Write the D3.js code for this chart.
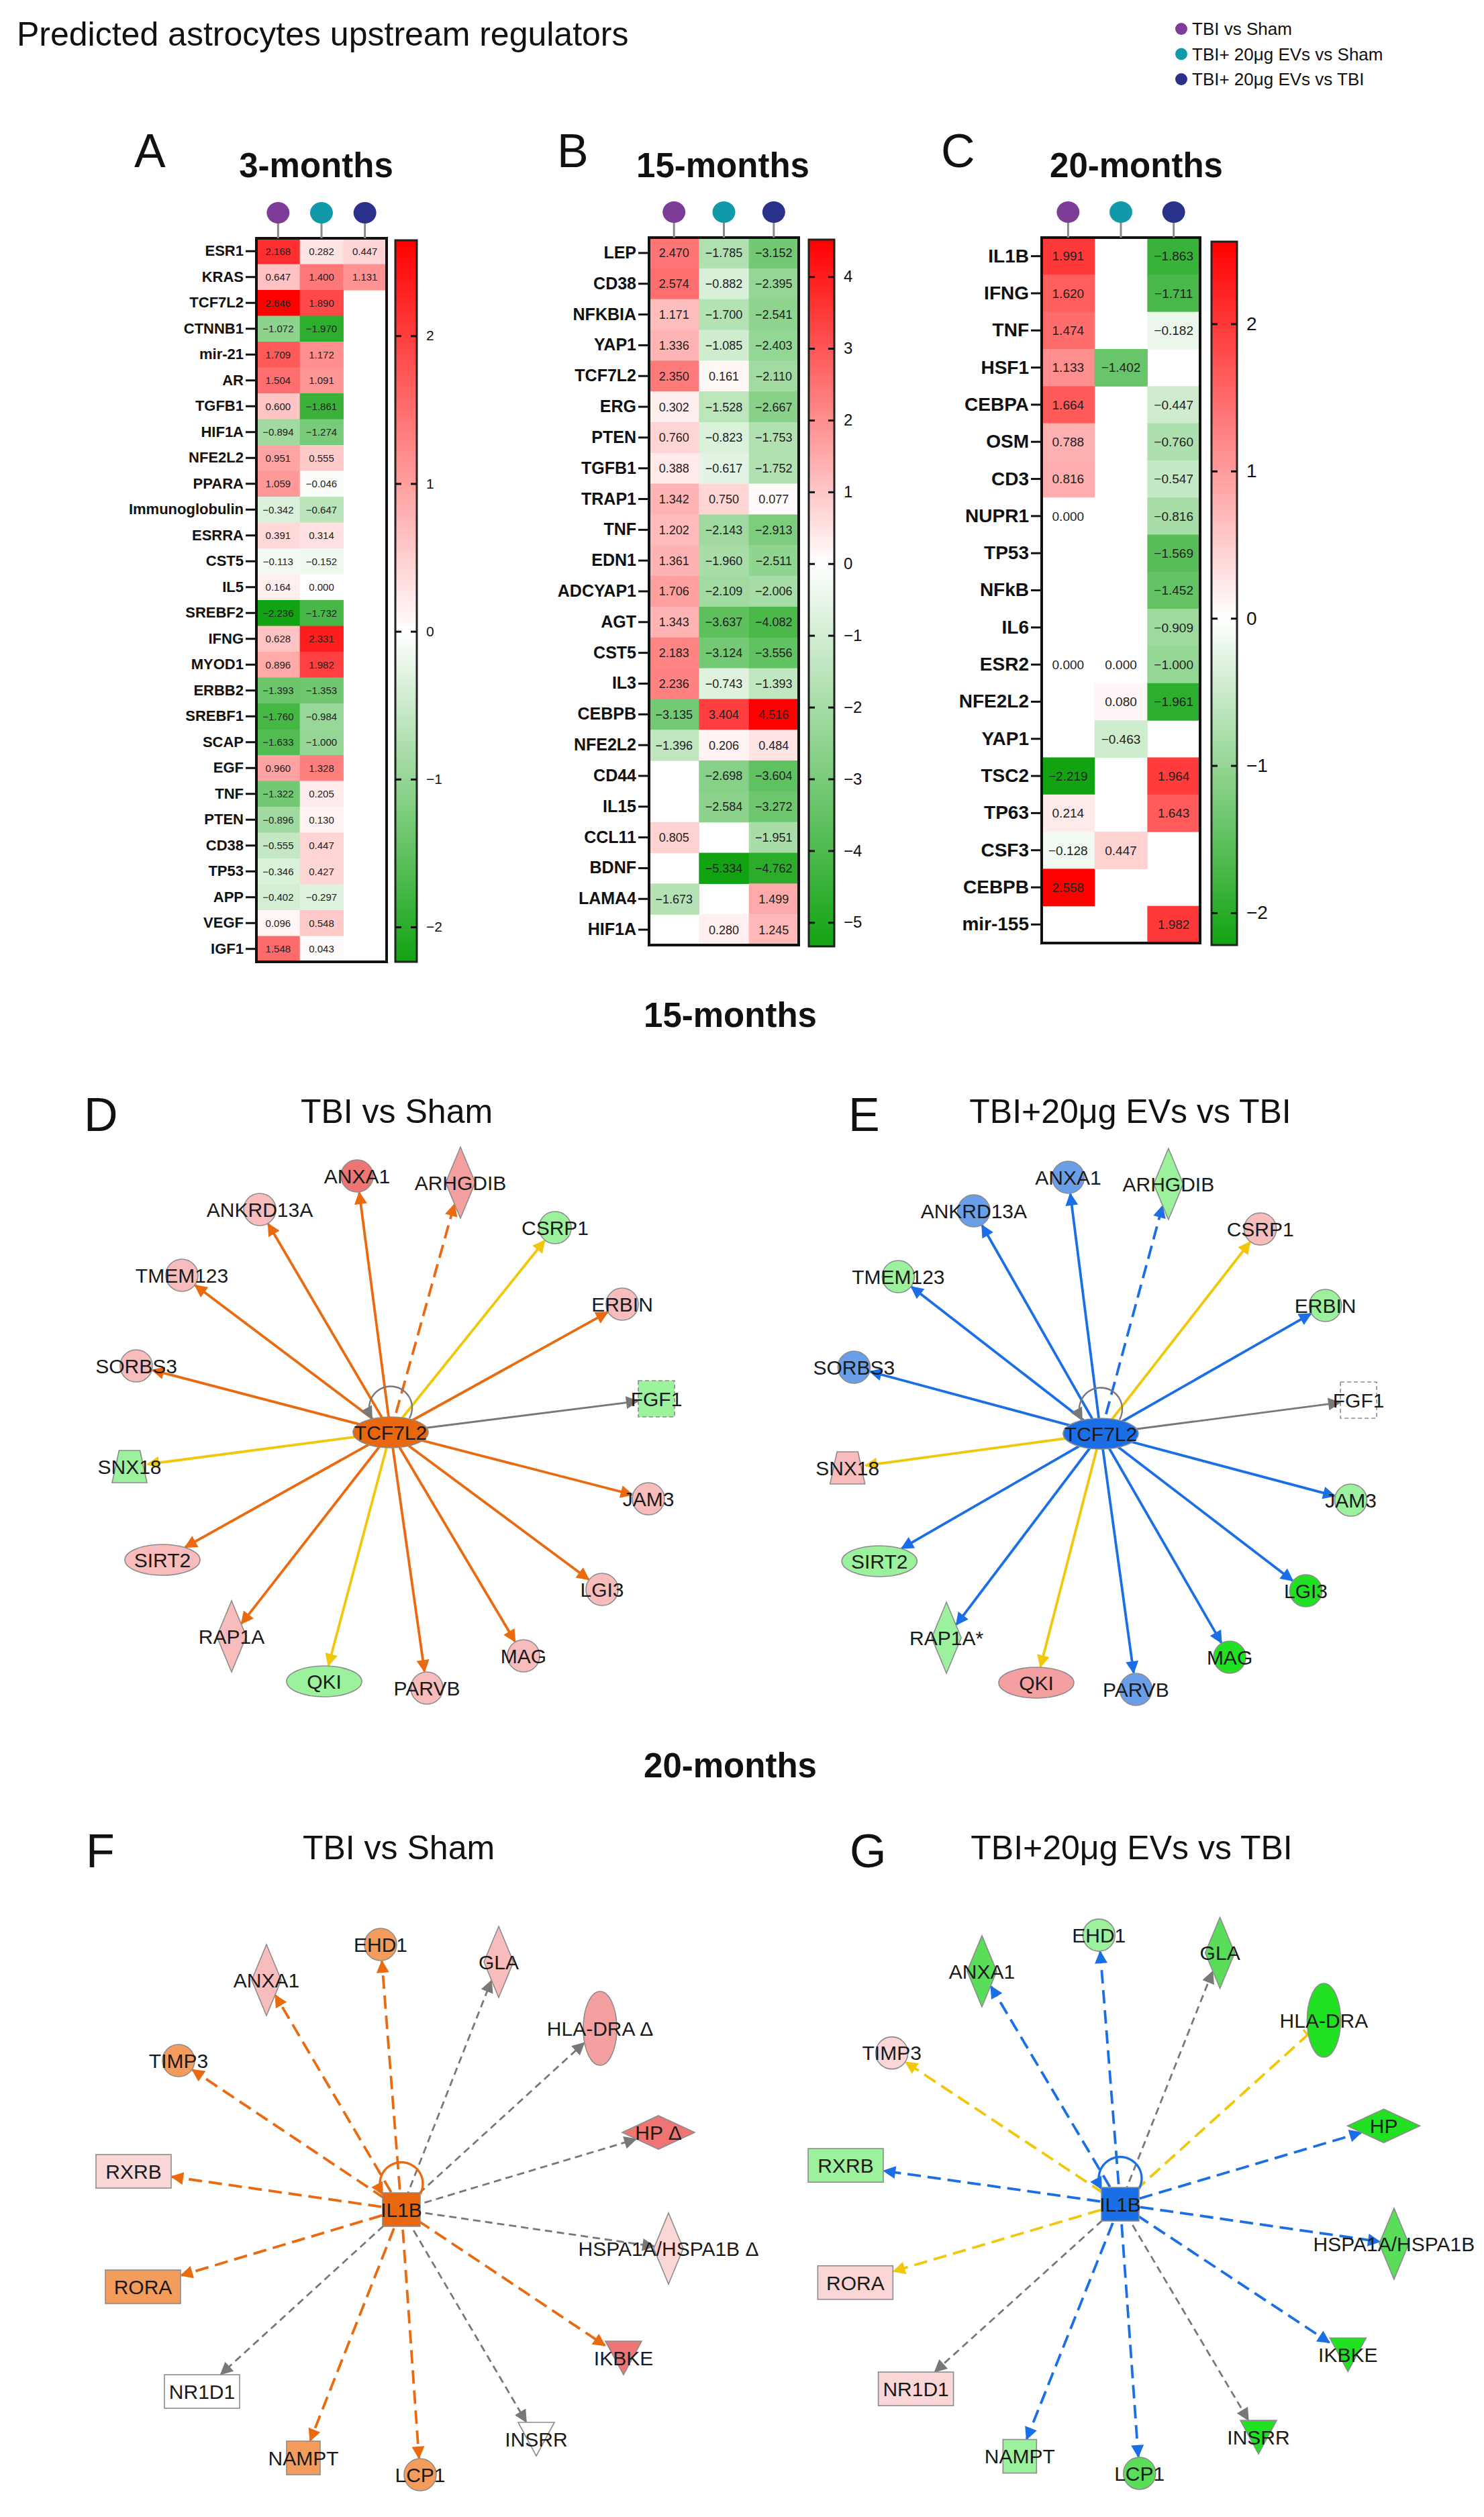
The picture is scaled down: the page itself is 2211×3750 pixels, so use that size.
<!DOCTYPE html>
<html>
<head>
<meta charset="utf-8">
<script src="https://cdn.jsdelivr.net/npm/d3@7"></script>
<style>
  body { margin: 0; background: #fff; }
  svg text { font-family: "Liberation Sans", Arial, sans-serif; }
</style>
</head>
<body>
<svg id="fig" width="2211" height="3750"></svg>
<script>
// ---------- data ----------
const groupNames = ["TBI vs Sham", "TBI+ 20μg EVs vs Sham", "TBI+ 20μg EVs vs TBI"];

const genes3m = ["ESR1","KRAS","TCF7L2","CTNNB1","mir-21","AR","TGFB1","HIF1A","NFE2L2","PPARA",
  "Immunoglobulin","ESRRA","CST5","IL5","SREBF2","IFNG","MYOD1","ERBB2","SREBF1","SCAP",
  "EGF","TNF","PTEN","CD38","TP53","APP","VEGF","IGF1"];
const tbiSham3m = [2.168,0.647,2.646,-1.072,1.709,1.504,0.600,-0.894,0.951,1.059,
  -0.342,0.391,-0.113,0.164,-2.236,0.628,0.896,-1.393,-1.760,-1.633,
  0.960,-1.322,-0.896,-0.555,-0.346,-0.402,0.096,1.548];
const evSham3m = [0.282,1.400,1.890,-1.970,1.172,1.091,-1.861,-1.274,0.555,-0.046,
  -0.647,0.314,-0.152,0.000,-1.732,2.331,1.982,-1.353,-0.984,-1.000,
  1.328,0.205,0.130,0.447,0.427,-0.297,0.548,0.043];
const evTbi3m = [0.447,1.131,null,null,null,null,null,null,null,null,
  null,null,null,null,null,null,null,null,null,null,
  null,null,null,null,null,null,null,null];

const genes15m = ["LEP","CD38","NFKBIA","YAP1","TCF7L2","ERG","PTEN","TGFB1","TRAP1","TNF",
  "EDN1","ADCYAP1","AGT","CST5","IL3","CEBPB","NFE2L2","CD44","IL15","CCL11","BDNF","LAMA4","HIF1A"];
const tbiSham15m = [2.470,2.574,1.171,1.336,2.350,0.302,0.760,0.388,1.342,1.202,
  1.361,1.706,1.343,2.183,2.236,-3.135,-1.396,null,null,0.805,null,-1.673,null];
const evSham15m = [-1.785,-0.882,-1.700,-1.085,0.161,-1.528,-0.823,-0.617,0.750,-2.143,
  -1.960,-2.109,-3.637,-3.124,-0.743,3.404,0.206,-2.698,-2.584,null,-5.334,null,0.280];
const evTbi15m = [-3.152,-2.395,-2.541,-2.403,-2.110,-2.667,-1.753,-1.752,0.077,-2.913,
  -2.511,-2.006,-4.082,-3.556,-1.393,4.516,0.484,-3.604,-3.272,-1.951,-4.762,1.499,1.245];

const genes20m = ["IL1B","IFNG","TNF","HSF1","CEBPA","OSM","CD3","NUPR1","TP53","NFkB",
  "IL6","ESR2","NFE2L2","YAP1","TSC2","TP63","CSF3","CEBPB","mir-155"];
const tbiSham20m = [1.991,1.620,1.474,1.133,1.664,0.788,0.816,0.000,null,null,
  null,0.000,null,null,-2.219,0.214,-0.128,2.558,null];
const evSham20m = [null,null,null,-1.402,null,null,null,null,null,null,
  null,0.000,0.080,-0.463,null,null,0.447,null,null];
const evTbi20m = [-1.863,-1.711,-0.182,null,-0.447,-0.760,-0.547,-0.816,-1.569,-1.452,
  -0.909,-1.000,-1.961,null,1.964,1.643,null,null,1.982];

// network, 15 months (hub TCF7L2); layout in IPA diagram units
const net15Genes = ["ANXA1","ARHGDIB","ANKRD13A","CSRP1","TMEM123","ERBIN","SORBS3","FGF1",
  "SNX18","JAM3","SIRT2","LGI3","RAP1A","MAG","QKI","PARVB"];
const net15GenesEv = ["ANXA1","ARHGDIB","ANKRD13A","CSRP1","TMEM123","ERBIN","SORBS3","FGF1",
  "SNX18","JAM3","SIRT2","LGI3","RAP1A*","MAG","QKI","PARVB"];
const net15Types = ["other","enzyme","other","other","other","other","other","growth factor",
  "transporter","other","transcription regulator","other","enzyme","other","transcription regulator","other"];
const net15LayoutX = [-50,104,-195,245,-311,345,-379,396,-389,384,-340,315,-237,198,-99,54];
const net15LayoutY = [-382,-372,-332,-305,-234,-191,-99,-50,51,99,190,234,304,333,371,381];
const net15Indirect = [false,true,false,false,false,false,false,false,false,false,false,false,false,false,false,false];
const net15ShamState = ["up4","up3","up2","dn1","up2","up2","up2","dn1","dn1","up2","up2","up2","up2","up2","dn1","up2"];
const net15ShamEdge = ["act","act","act","inc","act","act","act","nc","inc","act","act","act","act","act","inc","act"];
const net15EvState = ["inh1","dn1","inh1","up2","dn1","dn1","inh1","nc","up2","dn1","dn1","dn3","dn1","dn3","up3","inh1"];
const net15EvEdge = ["inh","inh","inh","inc","inh","inh","inh","nc","inc","inh","inh","inh","inh","inh","inc","inh"];

// network, 20 months (hub IL1B)
const net20Genes = ["EHD1","ANXA1","GLA","HLA-DRA Δ","TIMP3","HP Δ","RXRB","HSPA1A/HSPA1B Δ",
  "RORA","IKBKE","NR1D1","INSRR","NAMPT","LCP1"];
const net20GenesEv = ["EHD1","ANXA1","GLA","HLA-DRA","TIMP3","HP","RXRB","HSPA1A/HSPA1B",
  "RORA","IKBKE","NR1D1","INSRR","NAMPT","LCP1"];
const net20Types = ["other","enzyme","enzyme","transmembrane receptor","other","peptidase","nuclear receptor","enzyme",
  "nuclear receptor","kinase","nuclear receptor","kinase","cytokine","other"];
const net20LayoutX = [-31,-201,145,296,-332,383,-399,398,-385,331,-297,201,-146,28];
const net20LayoutY = [-395,-342,-369,-270,-222,-115,-57,58,115,221,271,342,370,395];
const net20ShamState = ["act1","up2","up2","up3","act1","up4","up1","up1","act1","up4","nc","nc","act1","act1"];
const net20ShamEdge = ["act","act","nc","nc","act","nc","act","nc","act","act","nc","nc","act","act"];
const net20ShamEnd = ["arrow","arrow","arrow","arrow","arrow","arrow","arrow","arrow","arrow","arrow","arrow","arrow","arrow","arrow"];
const net20EvState = ["dn1","dn2","dn2","dn3","up1","dn3","dn1","dn2","up1","dn3","up1","dn3","dn1","dn2"];
const net20EvEdge = ["inh","inh","nc","inc","inc","inh","inh","inh","inc","inh","nc","nc","inh","inh"];
const net20EvEnd = ["arrow","arrow","arrow","bar","arrow","arrow","arrow","arrow","arrow","arrow","arrow","arrow","arrow","arrow"];

// ---------- drawing ----------
const svg = d3.select("#fig");
svg.append("rect").attr("width", 2211).attr("height", 3750).attr("fill", "#fff");
const defs = svg.append("defs");

const GREEN = "#12a312", RED = "#ff0000";
const dotColor = d3.scaleOrdinal().domain(groupNames).range(["#7d3c98", "#1199a9", "#29318a"]);
const fmt = d3.format(".3f");
const OPEN = "'Open Sans', 'DejaVu Sans', sans-serif";

// title + legend
svg.append("text").attr("x", 25).attr("y", 68).attr("font-size", 50)
  .attr("font-family", OPEN).attr("fill", "#111").text("Predicted astrocytes upstream regulators");

const leg = svg.append("g");
groupNames.forEach((g, i) => {
  const y = 43 + i * 37.5;
  leg.append("circle").attr("cx", 1760).attr("cy", y).attr("r", 9).attr("fill", dotColor(g));
  leg.append("text").attr("x", 1776).attr("y", y + 9).attr("font-size", 26)
    .attr("font-family", OPEN).attr("fill", "#111").text(g);
});

function heatmap(id, genes, cols, o) {
  const g = svg.append("g");
  const y = d3.scaleBand().domain(genes).range([o.y0, o.y1]);
  const x = d3.scaleBand().domain(groupNames).range([o.x0, o.x1]);
  const all = cols.flat().filter(v => v !== null);
  const lo = d3.min(all), hi = d3.max(all);
  const color = d3.scaleLinear().domain([lo, 0, hi]).range([GREEN, "#ffffff", RED]);

  cols.forEach((vals, c) => {
    const grp = groupNames[c];
    const cells = vals.map((v, i) => ({ gene: genes[i], v })).filter(d => d.v !== null);
    g.append("g").selectAll("rect").data(cells).join("rect")
      .attr("x", x(grp)).attr("y", d => y(d.gene))
      .attr("width", x.bandwidth() + 0.6).attr("height", y.bandwidth() + 0.6)
      .attr("fill", d => color(d.v));
    g.append("g").selectAll("text").data(cells).join("text")
      .attr("x", x(grp) + x.bandwidth() / 2).attr("y", d => y(d.gene) + y.bandwidth() / 2)
      .attr("dy", "0.36em").attr("text-anchor", "middle")
      .attr("font-size", o.valueSize).attr("fill", "#222")
      .text(d => fmt(d.v));
  });

  g.append("rect").attr("x", o.x0).attr("y", o.y0)
    .attr("width", o.x1 - o.x0).attr("height", o.y1 - o.y0)
    .attr("fill", "none").attr("stroke", "#111").attr("stroke-width", 4);

  const ax = g.append("g").attr("transform", `translate(${o.x0 - 2},0)`)
    .call(d3.axisLeft(y).tickSize(14).tickPadding(3));
  ax.attr("font-family", "'Liberation Sans', Arial, sans-serif");
  ax.select(".domain").remove();
  ax.selectAll("line").attr("stroke", "#111").attr("stroke-width", 3);
  ax.selectAll("text").attr("font-size", o.labelSize).attr("font-weight", "bold").attr("fill", "#111");

  // group markers above columns
  groupNames.forEach(grp => {
    const cx = x(grp) + x.bandwidth() / 2;
    g.append("line").attr("x1", cx).attr("x2", cx).attr("y1", o.dotY + 14).attr("y2", o.y0)
      .attr("stroke", "#8a8a8a").attr("stroke-width", 3);
    g.append("ellipse").attr("cx", cx).attr("cy", o.dotY).attr("rx", 17).attr("ry", 16)
      .attr("fill", dotColor(grp));
  });

  // colour bar
  const [bx0, by0, bx1, by1] = o.cb;
  const grad = defs.append("linearGradient").attr("id", id)
    .attr("x1", 0).attr("y1", 1).attr("x2", 0).attr("y2", 0);
  grad.append("stop").attr("offset", 0).attr("stop-color", GREEN);
  grad.append("stop").attr("offset", (0 - lo) / (hi - lo)).attr("stop-color", "#ffffff");
  grad.append("stop").attr("offset", 1).attr("stop-color", RED);
  g.append("rect").attr("x", bx0).attr("y", by0).attr("width", bx1 - bx0).attr("height", by1 - by0)
    .attr("fill", `url(#${id})`).attr("stroke", "#222").attr("stroke-width", 3);
  const cy = d3.scaleLinear().domain([lo, hi]).range([by1, by0]);
  const ticks = d3.range(Math.ceil(lo), Math.floor(hi) + 1);
  const right = g.append("g").attr("transform", `translate(${bx1},0)`)
    .call(d3.axisRight(cy).tickValues(ticks).tickSize(-9).tickPadding(14).tickFormat(d3.format("d")));
  right.attr("font-family", "'Liberation Sans', Arial, sans-serif");
  right.select(".domain").remove();
  right.selectAll("line").attr("stroke", "#111").attr("stroke-width", 3);
  right.selectAll("text").attr("font-size", o.cbSize).attr("fill", "#111");
  const left = g.append("g").attr("transform", `translate(${bx0},0)`)
    .call(d3.axisLeft(cy).tickValues(ticks).tickSize(-9).tickFormat(""));
  left.select(".domain").remove();
  left.selectAll("line").attr("stroke", "#111").attr("stroke-width", 3);

  // titles
  svg.append("text").attr("x", o.titleX).attr("y", 264).attr("text-anchor", "middle")
    .attr("font-family", OPEN).attr("font-weight", "bold").attr("font-size", 51).attr("fill", "#111")
    .text(o.title);
  svg.append("text").attr("x", o.letterX).attr("y", 249)
    .attr("font-family", OPEN).attr("font-size", 70).attr("fill", "#111").text(o.letter);
}

heatmap("cbA", genes3m, [tbiSham3m, evSham3m, evTbi3m], {
  x0: 382, x1: 576, y0: 355, y1: 1433, dotY: 317, cb: [589, 358, 621, 1433],
  labelSize: 22, valueSize: 15, cbSize: 21, title: "3-months", titleX: 471, letter: "A", letterX: 200
});
heatmap("cbB", genes15m, [tbiSham15m, evSham15m, evTbi15m], {
  x0: 967, x1: 1190, y0: 354, y1: 1408, dotY: 316, cb: [1205, 357, 1243, 1410],
  labelSize: 25, valueSize: 18, cbSize: 24, title: "15-months", titleX: 1077, letter: "B", letterX: 830
});
heatmap("cbC", genes20m, [tbiSham20m, evSham20m, evTbi20m], {
  x0: 1552, x1: 1788, y0: 354, y1: 1405, dotY: 316, cb: [1805, 360, 1843, 1408],
  labelSize: 28, valueSize: 19, cbSize: 28, title: "20-months", titleX: 1693, letter: "C", letterX: 1402
});

// section headings
[["15-months", 1530], ["20-months", 2648]].forEach(([t, yy]) => {
  svg.append("text").attr("x", 1088).attr("y", yy).attr("text-anchor", "middle")
    .attr("font-family", OPEN).attr("font-weight", "bold").attr("font-size", 51).attr("fill", "#111").text(t);
});

// ---------- networks ----------
const stateColor = d3.scaleOrdinal()
  .domain(["nc","up1","up2","up3","up4","dn1","dn2","dn3","act","act1","inh","inh1"])
  .range(["#ffffff","#fbd6d6","#f8bcbc","#f4a0a0","#ef7474","#9cf29c","#5ade5a","#22e022",
          "#e8670f","#f49c5c","#1a6ee6","#6a9ee8"]);
const edgeColor = d3.scaleOrdinal().domain(["act","inh","inc","nc"])
  .range(["#ea6a10","#1b6fe6","#f0c70a","#787878"]);

const shapeOf = {
  "other": { kind: "ellipse", hw: 24, hh: 24 },
  "transcription regulator": { kind: "ellipse", hw: 56, hh: 23 },
  "transmembrane receptor": { kind: "ellipse", hw: 25, hh: 55 },
  "enzyme": { kind: "diamond", hw: 22, hh: 53 },
  "peptidase": { kind: "diamond", hw: 54, hh: 25 },
  "growth factor": { kind: "rect", hw: 27, hh: 27, dashed: true },
  "cytokine": { kind: "rect", hw: 25, hh: 25 },
  "nuclear receptor": { kind: "rect", hw: 56, hh: 25 },
  "kinase": { kind: "tri", hw: 27, hh: 25 },
  "transporter": { kind: "trap", hw: 26, hh: 24 }
};

function boundary(s, ux, uy) {
  const ax = Math.abs(ux), ay = Math.abs(uy);
  if (s.kind === "ellipse") return 1 / Math.sqrt((ax / s.hw) ** 2 + (ay / s.hh) ** 2);
  if (s.kind === "diamond") return 1 / (ax / s.hw + ay / s.hh);
  return Math.min(ax > 1e-6 ? s.hw / ax : 1e9, ay > 1e-6 ? s.hh / ay : 1e9);
}

function drawShape(g, s, x, y, fill) {
  let el;
  if (s.kind === "ellipse") {
    el = g.append("ellipse").attr("cx", x).attr("cy", y).attr("rx", s.hw).attr("ry", s.hh);
  } else if (s.kind === "rect") {
    el = g.append("rect").attr("x", x - s.hw).attr("y", y - s.hh).attr("width", 2 * s.hw).attr("height", 2 * s.hh);
  } else {
    let pts;
    if (s.kind === "diamond") pts = [[0, -s.hh], [s.hw, 0], [0, s.hh], [-s.hw, 0]];
    else if (s.kind === "tri") pts = [[-s.hw, -s.hh], [s.hw, -s.hh], [0, s.hh]];
    else pts = [[-s.hw * 0.6, -s.hh], [s.hw * 0.6, -s.hh], [s.hw, s.hh], [-s.hw, s.hh]];
    el = g.append("polygon").attr("points", pts.map(p => [x + p[0], y + p[1]].join(",")).join(" "));
  }
  el.attr("fill", fill).attr("stroke", "#8c8c8c").attr("stroke-width", 1.6);
  if (s.dashed) el.attr("stroke-dasharray", "6,4");
}

const markerIds = {};
function marker(kind, color) {
  const id = `m-${kind}-${color.slice(1)}`;
  if (markerIds[id]) return id;
  markerIds[id] = true;
  const m = defs.append("marker").attr("id", id).attr("viewBox", "0 0 10 10")
    .attr("refY", 5).attr("markerUnits", "userSpaceOnUse").attr("orient", "auto");
  if (kind === "arrow") {
    m.attr("refX", 9).attr("markerWidth", 24).attr("markerHeight", 19);
    m.append("path").attr("d", "M0,0L10,5L0,10z").attr("fill", color);
  } else {
    m.attr("refX", 5).attr("markerWidth", 20).attr("markerHeight", 22);
    m.append("path").attr("d", "M5,0L5,10").attr("stroke", color).attr("stroke-width", 1.6);
  }
  return id;
}

function network(o) {
  const g = svg.append("g");
  const px = d3.scaleLinear().domain([-400, 400]).range([o.cx - 400 * o.sx, o.cx + 400 * o.sx]);
  const py = d3.scaleLinear().domain([-400, 400]).range([o.cy - 400 * o.sy, o.cy + 400 * o.sy]);
  const nodes = o.genes.map((name, i) => ({
    name, x: px(o.lx[i]), y: py(o.ly[i]), shape: shapeOf[o.types[i]], state: o.states[i],
    edge: o.edges[i], dashed: o.indirect[i], end: o.ends ? o.ends[i] : "arrow"
  }));
  const hx = px(0), hy = py(0);

  // edges
  nodes.forEach(n => {
    const dx = n.x - hx, dy = n.y - hy, len = Math.hypot(dx, dy);
    const ux = dx / len, uy = dy / len;
    const r = boundary(n.shape, ux, uy) + 1;
    const col = edgeColor(n.edge);
    const ln = g.append("line").attr("x1", hx).attr("y1", hy)
      .attr("x2", n.x - ux * r).attr("y2", n.y - uy * r)
      .attr("stroke", col).attr("stroke-width", n.edge === "nc" ? 2.8 : 3.8)
      .attr("marker-end", `url(#${marker(n.end, col)})`);
    if (n.dashed) ln.attr("stroke-dasharray", n.edge === "nc" ? "11,7" : "20,10");
  });

  // self loop on hub
  const hs = o.hubShape, lc = edgeColor(o.loop);
  g.append("path")
    .attr("d", `M${hx + 28},${hy - hs.hh + 2} A32,32 0 1 0 ${hx - 28},${hy - hs.hh + 2}`)
    .attr("fill", "none").attr("stroke", lc).attr("stroke-width", o.loop === "nc" ? 2.4 : 3.4)
    .attr("marker-end", `url(#${marker("arrow", lc)})`);

  // nodes
  nodes.forEach(n => drawShape(g, n.shape, n.x, n.y, stateColor(n.state)));
  drawShape(g, hs, hx, hy, stateColor(o.hubState));

  // labels
  const labels = nodes.map(n => ({ name: n.name, x: n.x, y: n.y })).concat([{ name: o.hub, x: hx, y: hy }]);
  g.append("g").selectAll("text").data(labels).join("text")
    .attr("x", d => d.x).attr("y", d => d.y).attr("dy", "0.36em").attr("text-anchor", "middle")
    .attr("font-size", 30).attr("fill", "#1a1a1a").text(d => d.name);

  svg.append("text").attr("x", o.titleX).attr("y", o.titleY).attr("text-anchor", "middle")
    .attr("font-family", OPEN).attr("font-size", 50).attr("fill", "#111").text(o.title);
  svg.append("text").attr("x", o.letterX).attr("y", o.titleY + 12)
    .attr("font-family", OPEN).attr("font-size", 70).attr("fill", "#111").text(o.letter);
}

const noIndirect20 = net20Genes.map(() => true);

network({ cx: 582, cy: 2134, sx: 1, sy: 1, genes: net15Genes, types: net15Types,
  lx: net15LayoutX, ly: net15LayoutY, states: net15ShamState, edges: net15ShamEdge, indirect: net15Indirect,
  hub: "TCF7L2", hubShape: shapeOf["transcription regulator"], hubState: "act", loop: "nc",
  title: "TBI vs Sham", titleX: 591, titleY: 1673, letter: "D", letterX: 125 });
network({ cx: 1640, cy: 2136, sx: 0.97, sy: 1, genes: net15GenesEv, types: net15Types,
  lx: net15LayoutX, ly: net15LayoutY, states: net15EvState, edges: net15EvEdge, indirect: net15Indirect,
  hub: "TCF7L2", hubShape: shapeOf["transcription regulator"], hubState: "inh", loop: "nc",
  title: "TBI+20μg EVs vs TBI", titleX: 1684, titleY: 1673, letter: "E", letterX: 1264 });
network({ cx: 598, cy: 3292, sx: 1, sy: 1, genes: net20Genes, types: net20Types,
  lx: net20LayoutX, ly: net20LayoutY, states: net20ShamState, edges: net20ShamEdge, indirect: noIndirect20,
  ends: net20ShamEnd, hub: "IL1B", hubShape: { kind: "rect", hw: 28, hh: 25 }, hubState: "act", loop: "act",
  title: "TBI vs Sham", titleX: 594, titleY: 2770, letter: "F", letterX: 128 });
network({ cx: 1669, cy: 3284, sx: 1.025, sy: 1.015, genes: net20GenesEv, types: net20Types,
  lx: net20LayoutX, ly: net20LayoutY, states: net20EvState, edges: net20EvEdge, indirect: noIndirect20,
  ends: net20EvEnd, hub: "IL1B", hubShape: { kind: "rect", hw: 28, hh: 25 }, hubState: "inh", loop: "inh",
  title: "TBI+20μg EVs vs TBI", titleX: 1686, titleY: 2770, letter: "G", letterX: 1266 });
</script>
</body>
</html>
